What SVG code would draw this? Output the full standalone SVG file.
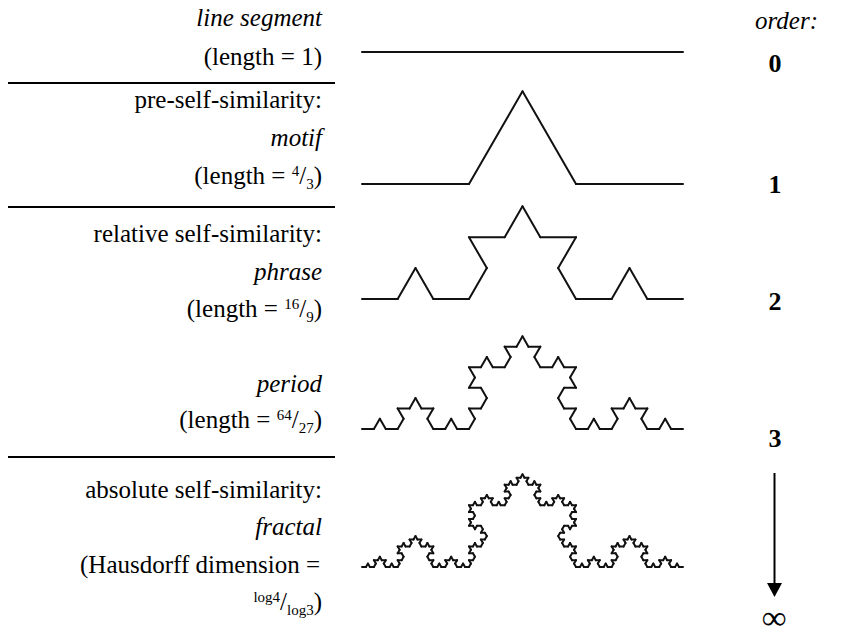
<svg xmlns="http://www.w3.org/2000/svg" xmlns:xlink="http://www.w3.org/1999/xlink" width="844" height="638" viewBox="0 0 844 638" font-family="'Liberation Serif', 'Times New Roman', Tinos, 'Noto Serif', 'DejaVu Serif', serif">
<style>
text{font-family:'Liberation Serif','Times New Roman',Tinos,'Noto Serif','DejaVu Serif',serif;fill:#000;font-size:25px}
.r{text-anchor:end}
.i{font-style:italic}
.s{font-size:15px}
.n{font-weight:bold;font-size:26px;text-anchor:middle}
.inf{font-size:34px}
.hr{stroke:#000;stroke-width:2}
.k path{stroke:#111;stroke-width:2;stroke-linecap:round;fill:none}
.ax{stroke:#000;stroke-width:2}
</style>
<defs>
<marker id="ah" viewBox="0 0 14 15" markerWidth="14" markerHeight="15" refX="0" refY="7.5" orient="auto" markerUnits="userSpaceOnUse"><path d="M0,0L14,7.5L0,15z" fill="#000"/></marker>
<g id="k0a" class="k"><path d="M0 0H321"/></g>
<g id="k0b" class="k"><path d="M0 0H107"/></g>
<g id="k0c" class="k"><path d="M0 0H35.6667"/></g>
<g id="k0d" class="k"><path d="M0 0H11.8889"/></g>
<g id="k0e" class="k"><path d="M0 0H3.96296"/></g>
<g id="k1a"><use xlink:href="#k0b"/><use xlink:href="#k0b" transform="translate(107,0) rotate(-60)"/><use xlink:href="#k0b" transform="translate(160.5,-92.665) rotate(60)"/><use xlink:href="#k0b" transform="translate(214,0)"/></g>
<g id="k1b"><use xlink:href="#k0c"/><use xlink:href="#k0c" transform="translate(35.6667,0) rotate(-60)"/><use xlink:href="#k0c" transform="translate(53.5,-30.8883) rotate(60)"/><use xlink:href="#k0c" transform="translate(71.3333,0)"/></g>
<g id="k1c"><use xlink:href="#k0d"/><use xlink:href="#k0d" transform="translate(11.8889,0) rotate(-60)"/><use xlink:href="#k0d" transform="translate(17.8333,-10.2961) rotate(60)"/><use xlink:href="#k0d" transform="translate(23.7778,0)"/></g>
<g id="k1d"><use xlink:href="#k0e"/><use xlink:href="#k0e" transform="translate(3.96296,0) rotate(-60)"/><use xlink:href="#k0e" transform="translate(5.94444,-3.43204) rotate(60)"/><use xlink:href="#k0e" transform="translate(7.92593,0)"/></g>
<g id="k2a"><use xlink:href="#k1b"/><use xlink:href="#k1b" transform="translate(107,0) rotate(-60)"/><use xlink:href="#k1b" transform="translate(160.5,-92.665) rotate(60)"/><use xlink:href="#k1b" transform="translate(214,0)"/></g>
<g id="k2b"><use xlink:href="#k1c"/><use xlink:href="#k1c" transform="translate(35.6667,0) rotate(-60)"/><use xlink:href="#k1c" transform="translate(53.5,-30.8883) rotate(60)"/><use xlink:href="#k1c" transform="translate(71.3333,0)"/></g>
<g id="k2c"><use xlink:href="#k1d"/><use xlink:href="#k1d" transform="translate(11.8889,0) rotate(-60)"/><use xlink:href="#k1d" transform="translate(17.8333,-10.2961) rotate(60)"/><use xlink:href="#k1d" transform="translate(23.7778,0)"/></g>
<g id="k3a"><use xlink:href="#k2b"/><use xlink:href="#k2b" transform="translate(107,0) rotate(-60)"/><use xlink:href="#k2b" transform="translate(160.5,-92.665) rotate(60)"/><use xlink:href="#k2b" transform="translate(214,0)"/></g>
<g id="k3b"><use xlink:href="#k2c"/><use xlink:href="#k2c" transform="translate(35.6667,0) rotate(-60)"/><use xlink:href="#k2c" transform="translate(53.5,-30.8883) rotate(60)"/><use xlink:href="#k2c" transform="translate(71.3333,0)"/></g>
<g id="k4a"><use xlink:href="#k3b"/><use xlink:href="#k3b" transform="translate(107,0) rotate(-60)"/><use xlink:href="#k3b" transform="translate(160.5,-92.665) rotate(60)"/><use xlink:href="#k3b" transform="translate(214,0)"/></g>
</defs>
<rect width="844" height="638" fill="#fff"/>

<g id="dividers">
<line class="hr" x1="8" y1="83" x2="335" y2="83"/>
<line class="hr" x1="8" y1="207" x2="335" y2="207"/>
<line class="hr" x1="8" y1="457" x2="335" y2="457"/>
</g>

<g id="row0">
<text class="r i" x="322" y="26">line segment</text>
<text class="r" x="322" y="65">(length = 1)</text>
<use xlink:href="#k0a" transform="translate(362,52)"/>
<text class="n" x="775" y="72">0</text>
</g>

<g id="row1">
<text class="r" x="322" y="108">pre-self-similarity:</text>
<text class="r i" x="322" y="146">motif</text>
<text class="r" x="322" y="184">(length = <tspan class="s" dy="-8">4</tspan><tspan dy="8">/</tspan><tspan class="s" dy="5">3</tspan><tspan dy="-5">)</tspan></text>
<use xlink:href="#k1a" transform="translate(362,184)"/>
<text class="n" x="775" y="193">1</text>
</g>

<g id="row2">
<text class="r" x="322" y="242">relative self-similarity:</text>
<text class="r i" x="322" y="280">phrase</text>
<text class="r" x="322" y="317">(length = <tspan class="s" dy="-8">16</tspan><tspan dy="8">/</tspan><tspan class="s" dy="5">9</tspan><tspan dy="-5">)</tspan></text>
<use xlink:href="#k2a" transform="translate(362,299)"/>
<text class="n" x="775" y="310">2</text>
</g>

<g id="row3">
<text class="r i" x="322" y="392">period</text>
<text class="r" x="322" y="428">(length = <tspan class="s" dy="-8">64</tspan><tspan dy="8">/</tspan><tspan class="s" dy="5">27</tspan><tspan dy="-5">)</tspan></text>
<use xlink:href="#k3a" transform="translate(362,429)"/>
<text class="n" x="775" y="447">3</text>
</g>

<g id="row4">
<text class="r" x="322" y="498">absolute self-similarity:</text>
<text class="r i" x="322" y="535">fractal</text>
<text class="r" x="320" y="573">(Hausdorff dimension =</text>
<text class="r" x="322" y="610"><tspan class="s" dy="-8">log4</tspan><tspan dy="8">/</tspan><tspan class="s" dy="5">log3</tspan><tspan dy="-5">)</tspan></text>
<use xlink:href="#k4a" transform="translate(362,567)"/>
<text class="n inf" x="774" y="629">∞</text>
</g>

<g id="order-axis">
<text class="i" x="755" y="29">order:</text>
<line class="ax" x1="774.5" y1="473" x2="774.5" y2="583" marker-end="url(#ah)"/>
</g>
</svg>
